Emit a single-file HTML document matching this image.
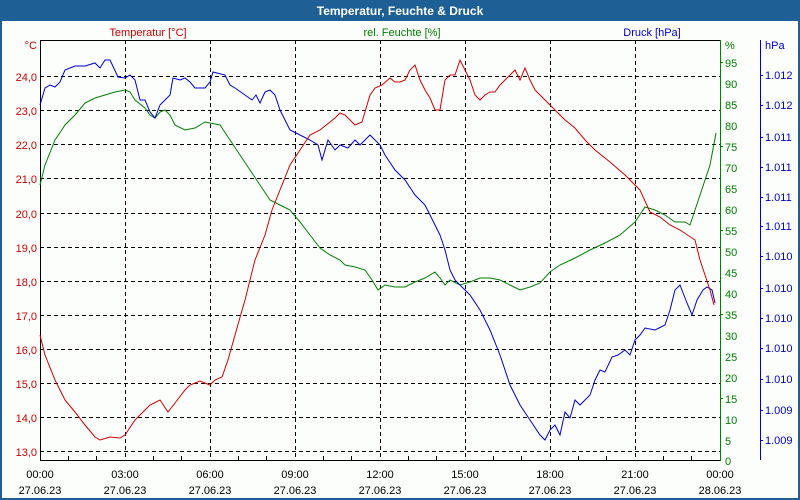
<!DOCTYPE html>
<html><head><meta charset="utf-8"><style>
body{margin:0;background:#fff;}
svg{display:block;font-family:"Liberation Sans",sans-serif;}
</style></head><body>
<svg width="800" height="500" xmlns="http://www.w3.org/2000/svg">
<rect x="0" y="0" width="800" height="500" fill="#1e6096"/>
<rect x="2" y="21" width="796" height="477" fill="#fcfefc"/>
<text x="400" y="15" fill="#fff" font-size="12" font-weight="bold" text-anchor="middle">Temperatur, Feuchte &amp; Druck</text>
<text x="148" y="36" fill="#d00000" font-size="11" text-anchor="middle">Temperatur [°C]</text>
<text x="402" y="36" fill="#008000" font-size="11" text-anchor="middle">rel. Feuchte [%]</text>
<text x="652" y="36" fill="#0000d0" font-size="11" text-anchor="middle">Druck [hPa]</text>
<g stroke="#000" stroke-dasharray="4,3" stroke-width="1">
<line x1="125.5" y1="40" x2="125.5" y2="460"/><line x1="210.5" y1="40" x2="210.5" y2="460"/><line x1="295.5" y1="40" x2="295.5" y2="460"/><line x1="380.5" y1="40" x2="380.5" y2="460"/><line x1="465.5" y1="40" x2="465.5" y2="460"/><line x1="550.5" y1="40" x2="550.5" y2="460"/><line x1="635.5" y1="40" x2="635.5" y2="460"/>
<line x1="40" y1="76.5" x2="720" y2="76.5"/><line x1="40" y1="110.5" x2="720" y2="110.5"/><line x1="40" y1="144.5" x2="720" y2="144.5"/><line x1="40" y1="178.5" x2="720" y2="178.5"/><line x1="40" y1="213.5" x2="720" y2="213.5"/><line x1="40" y1="247.5" x2="720" y2="247.5"/><line x1="40" y1="281.5" x2="720" y2="281.5"/><line x1="40" y1="315.5" x2="720" y2="315.5"/><line x1="40" y1="349.5" x2="720" y2="349.5"/><line x1="40" y1="383.5" x2="720" y2="383.5"/><line x1="40" y1="417.5" x2="720" y2="417.5"/><line x1="40" y1="451.5" x2="720" y2="451.5"/>
</g>
<polyline fill="none" stroke="#000" points="40.5,460.5 40.5,40.5 720.5,40.5"/>
<line x1="40" y1="460.5" x2="720" y2="460.5" stroke="#000"/>
<g stroke="#000"><line x1="68.5" y1="460" x2="68.5" y2="456"/><line x1="96.5" y1="460" x2="96.5" y2="456"/><line x1="153.5" y1="460" x2="153.5" y2="456"/><line x1="181.5" y1="460" x2="181.5" y2="456"/><line x1="238.5" y1="460" x2="238.5" y2="456"/><line x1="266.5" y1="460" x2="266.5" y2="456"/><line x1="323.5" y1="460" x2="323.5" y2="456"/><line x1="351.5" y1="460" x2="351.5" y2="456"/><line x1="408.5" y1="460" x2="408.5" y2="456"/><line x1="436.5" y1="460" x2="436.5" y2="456"/><line x1="493.5" y1="460" x2="493.5" y2="456"/><line x1="521.5" y1="460" x2="521.5" y2="456"/><line x1="578.5" y1="460" x2="578.5" y2="456"/><line x1="606.5" y1="460" x2="606.5" y2="456"/><line x1="663.5" y1="460" x2="663.5" y2="456"/><line x1="691.5" y1="460" x2="691.5" y2="456"/></g>
<line x1="720.5" y1="40" x2="720.5" y2="461" stroke="#008000"/>
<line x1="760.5" y1="40" x2="760.5" y2="460" stroke="#0000d0"/>
<g fill="#d00000" font-size="11" text-anchor="end">
<text x="37" y="49">°C</text>
<text x="37" y="81">24,0</text><text x="37" y="115">23,0</text><text x="37" y="149">22,0</text><text x="37" y="183">21,0</text><text x="37" y="218">20,0</text><text x="37" y="252">19,0</text><text x="37" y="286">18,0</text><text x="37" y="320">17,0</text><text x="37" y="354">16,0</text><text x="37" y="388">15,0</text><text x="37" y="422">14,0</text><text x="37" y="456">13,0</text>
</g>
<g fill="#008000" font-size="11">
<text x="725" y="49">%</text>
<text x="725" y="67">95</text><text x="725" y="88">90</text><text x="725" y="109">85</text><text x="725" y="130">80</text><text x="725" y="151">75</text><text x="725" y="172">70</text><text x="725" y="193">65</text><text x="725" y="214">60</text><text x="725" y="235">55</text><text x="725" y="256">50</text><text x="725" y="277">45</text><text x="725" y="298">40</text><text x="725" y="319">35</text><text x="725" y="340">30</text><text x="725" y="361">25</text><text x="725" y="382">20</text><text x="725" y="403">15</text><text x="725" y="424">10</text><text x="725" y="445">5</text><text x="725" y="465">0</text>
</g>
<g stroke="#008000"><line x1="720" y1="62.5" x2="723" y2="62.5"/><line x1="720" y1="146.5" x2="723" y2="146.5"/><line x1="720" y1="230.5" x2="723" y2="230.5"/><line x1="720" y1="314.5" x2="723" y2="314.5"/><line x1="720" y1="398.5" x2="723" y2="398.5"/></g>
<g fill="#0000d0" font-size="11">
<text x="765" y="49">hPa</text>
<text x="765" y="79">1.012</text><text x="765" y="109">1.012</text><text x="765" y="141">1.011</text><text x="765" y="171">1.011</text><text x="765" y="201">1.011</text><text x="765" y="230">1.011</text><text x="765" y="260">1.010</text><text x="765" y="292">1.010</text><text x="765" y="322">1.010</text><text x="765" y="352">1.010</text><text x="765" y="383">1.010</text><text x="765" y="414">1.009</text><text x="765" y="444">1.009</text>
</g>
<g stroke="#0000d0"><line x1="760" y1="75.5" x2="763" y2="75.5"/><line x1="760" y1="105.5" x2="763" y2="105.5"/><line x1="760" y1="137.5" x2="763" y2="137.5"/><line x1="760" y1="167.5" x2="763" y2="167.5"/><line x1="760" y1="197.5" x2="763" y2="197.5"/><line x1="760" y1="226.5" x2="763" y2="226.5"/><line x1="760" y1="256.5" x2="763" y2="256.5"/><line x1="760" y1="288.5" x2="763" y2="288.5"/><line x1="760" y1="318.5" x2="763" y2="318.5"/><line x1="760" y1="348.5" x2="763" y2="348.5"/><line x1="760" y1="379.5" x2="763" y2="379.5"/><line x1="760" y1="410.5" x2="763" y2="410.5"/><line x1="760" y1="440.5" x2="763" y2="440.5"/></g>
<g fill="#000" font-size="11" text-anchor="middle">
<text x="40" y="478">00:00</text><text x="40" y="494">27.06.23</text>
<text x="125" y="478">03:00</text><text x="125" y="494">27.06.23</text>
<text x="210" y="478">06:00</text><text x="210" y="494">27.06.23</text>
<text x="295" y="478">09:00</text><text x="295" y="494">27.06.23</text>
<text x="380" y="478">12:00</text><text x="380" y="494">27.06.23</text>
<text x="465" y="478">15:00</text><text x="465" y="494">27.06.23</text>
<text x="550" y="478">18:00</text><text x="550" y="494">27.06.23</text>
<text x="635" y="478">21:00</text><text x="635" y="494">27.06.23</text>
<text x="720" y="478">00:00</text><text x="720" y="494">28.06.23</text>
</g>
<polyline fill="none" stroke="#008000" stroke-width="1" points="40,185 45,165 55,140 65,125 75,115 85,103 95,98 105,95 115,92 125,90 130,92 135,100 145,108 150,115 155,118 160,112 165,110 170,115 175,125 185,130 195,128 205,122 210,123 220,125 230,140 240,155 250,170 260,185 270,200 280,205 290,210 300,222 310,235 320,248 330,255 340,260 345,265 355,267 365,270 372,280 378,290 385,285 395,287 405,287 415,282 425,278 435,272 440,278 445,285 450,280 460,285 470,282 480,278 490,278 500,280 510,285 520,290 530,287 540,283 550,272 560,265 575,258 590,250 605,243 620,235 635,222 645,207 655,210 665,215 675,222 685,222 690,225 700,195 710,165 716,133"/>
<polyline fill="none" stroke="#0000d0" stroke-width="1" points="40,105 45,88 50,85 55,87 60,82 65,70 70,68 75,66 85,66 95,63 100,68 105,60 110,60 118,77 125,78 130,75 135,80 140,100 145,100 150,112 155,118 160,105 165,100 170,95 173,78 180,80 185,78 190,82 195,88 205,88 210,82 213,72 225,75 230,85 235,88 245,95 252,100 256,95 260,103 265,92 270,90 275,95 280,110 285,120 290,130 300,135 310,140 318,145 322,160 328,140 335,150 340,145 348,148 355,140 360,145 365,140 370,135 375,140 380,145 385,155 395,170 405,180 415,195 425,205 430,215 435,225 440,235 445,250 450,270 455,280 460,285 470,295 480,310 490,330 500,355 510,385 520,405 530,420 540,435 545,440 550,430 555,425 560,435 565,412 570,418 575,400 580,405 585,400 590,395 595,380 600,370 605,372 612,357 618,355 625,350 630,355 635,340 640,335 645,328 655,330 665,325 670,310 675,290 680,285 687,303 692,315 697,300 703,290 707,287 712,290 715,303"/>
<polyline fill="none" stroke="#d00000" stroke-width="1" points="40,335 45,355 55,380 65,400 75,412 85,425 95,437 100,440 110,437 120,438 125,435 135,420 150,405 160,400 168,412 175,403 185,390 190,385 200,381 210,385 215,380 222,377 228,360 235,335 245,300 255,260 265,235 272,210 280,190 290,165 300,150 310,135 320,130 330,122 335,118 340,113 345,115 350,120 355,125 362,122 370,95 375,88 382,85 390,78 395,82 400,82 405,80 410,70 415,65 420,80 425,90 430,98 435,110 440,110 445,80 450,75 455,75 460,60 465,70 470,80 475,95 480,100 485,95 490,92 495,92 500,85 505,80 510,75 515,70 520,80 525,68 530,80 535,90 545,100 555,110 565,120 575,128 585,140 595,150 610,162 625,175 640,190 650,212 660,217 670,225 680,230 695,240 700,260 705,275 710,290 714,305"/>
</svg>
</body></html>
